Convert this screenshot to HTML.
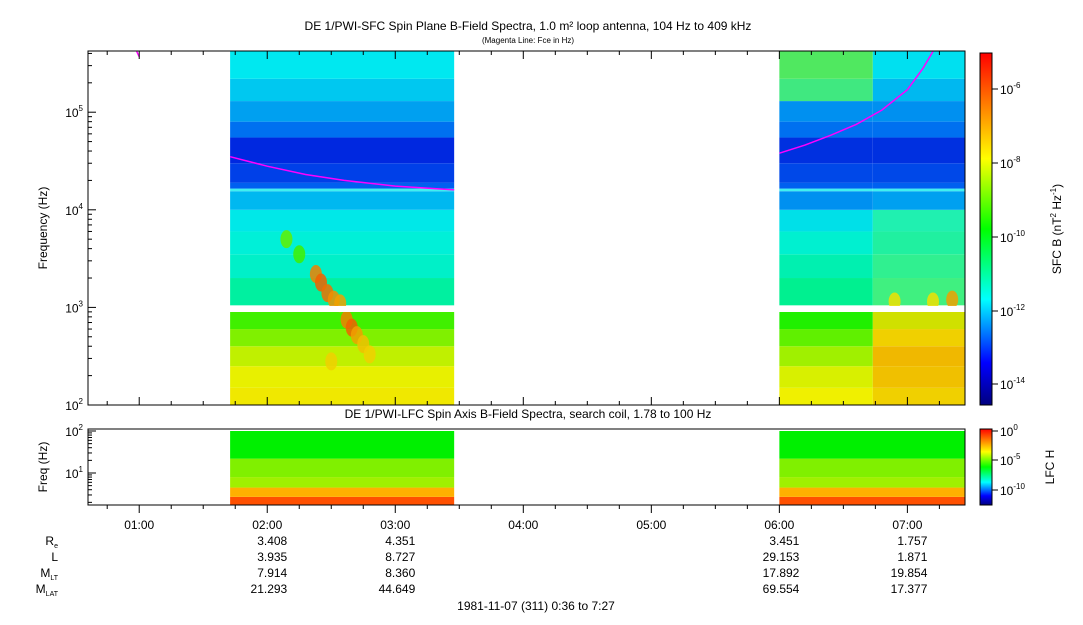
<!DOCTYPE html>
<html><head><meta charset="utf-8">
<style>
body{margin:0;background:#fff;width:1083px;height:620px;overflow:hidden;font-family:"Liberation Sans",sans-serif;}
svg text{font-family:"Liberation Sans",sans-serif;fill:#000;}
</style></head>
<body>
<svg id="chart" width="1083" height="620" xmlns="http://www.w3.org/2000/svg">
<defs>
<linearGradient id="cb1" x1="0" y1="1" x2="0" y2="0">
<stop offset="0" stop-color="#00007f"/><stop offset="0.12" stop-color="#0000ff"/><stop offset="0.3" stop-color="#00ffff"/><stop offset="0.5" stop-color="#00ff00"/><stop offset="0.7" stop-color="#ffff00"/><stop offset="0.85" stop-color="#ff8000"/><stop offset="1" stop-color="#ff0000"/>
</linearGradient>
<clipPath id="clipTop"><rect x="88" y="51" width="877" height="354"/></clipPath>
</defs>
<text x="528" y="30" font-size="12" text-anchor="middle">DE 1/PWI-SFC  Spin Plane B-Field Spectra, 1.0 m² loop antenna, 104 Hz to 409 kHz</text>
<text x="528" y="43" font-size="8" text-anchor="middle">(Magenta Line: Fce in Hz)</text>
<text x="528" y="418" font-size="12" text-anchor="middle">DE 1/PWI-LFC  Spin Axis B-Field Spectra, search coil, 1.78 to 100 Hz</text>
<g id="topg"></g><g id="lowg"></g><g id="axes"></g>
<rect x="980" y="53" width="12" height="352" fill="url(#cb1)" stroke="#000"/>
<rect x="980" y="429" width="12" height="76" fill="url(#cb1)" stroke="#000"/>
<text transform="translate(1061,229) rotate(-90)" font-size="12" text-anchor="middle">SFC B (nT<tspan font-size="8" dy="-5">2</tspan><tspan dy="5"> Hz</tspan><tspan font-size="8" dy="-5">-1</tspan><tspan dy="5">)</tspan></text>
<text transform="translate(1054,467) rotate(-90)" font-size="12" text-anchor="middle">LFC H</text>
<text transform="translate(47,228) rotate(-90)" font-size="12" text-anchor="middle">Frequency (Hz)</text>
<text transform="translate(47,467) rotate(-90)" font-size="12" text-anchor="middle">Freq (Hz)</text>
<text x="536" y="610" font-size="12" text-anchor="middle">1981-11-07 (311) 0:36 to 7:27</text>
</svg>
<script>
const tStart=0.6,tEnd=7.45;
const hourTicks=[1,2,3,4,5,6,7];
const hourLabels=["01:00","02:00","03:00","04:00","05:00","06:00","07:00"];
const segments=[[1.71,3.46],[6.0,7.45]];
const fceTimes1=[0.98,1.0];const fceVals1=[420000,370000];
const fceTimes2=[1.71,2.0,2.3,2.6,3.0,3.46];const fceVals2=[35000,28000,23000,20000,17500,16000];
const fceTimes3=[6.0,6.2,6.4,6.6,6.8,7.0,7.12,7.2];const fceVals3=[38000,46000,58000,75000,105000,170000,280000,420000];
const bandLo=[100,150,250,400,600,1050,2000,3500,6000,10000,15500,16500,19000,30000,55000,80000,130000,220000];
const bandHi=[150,250,400,600,900,2000,3500,6000,10000,15500,16500,19000,30000,55000,80000,130000,220000,420000];
const seg1Colors=["#f0e800","#e8f000","#c0f000","#80f000","#40f000","#00f0a0","#00f0c8","#00f0d8","#00e8e8","#00b8f0","#40f0f0","#0060f0","#0040e8","#0028e0","#0070f0","#00a0f0","#00c8f0","#00e8f0"];
const seg2aColors=["#f0f000","#d8f000","#a0f000","#60f000","#20f000","#00f090","#00f0b0","#00f0d0","#00e0e8","#0090f0","#40f0f0","#0060f0","#0048e8","#0030e0","#0070f0","#0090f0","#40e880","#50e860"];
const seg2bColors=["#f0d000","#f0c000","#f0b800","#f0d000","#d0e000","#40f080","#30f090","#20f0a0","#20f0b0","#00a0f0","#40f0f0","#0060f0","#0048e8","#0030e0","#0070f0","#0090f0","#00b8f0","#00e0f0"];
const seg2Split=6.73;
const blobT=[2.38,2.42,2.47,2.52,2.57,2.62,2.66,2.7,2.75,2.8,2.5,2.15,2.25,6.9,7.2,7.35];
const blobF=[2200,1800,1400,1200,1100,750,620,520,420,330,280,5000,3500,1150,1150,1200];
const blobC=["#f08000","#f06000","#f07000","#f09000","#f0a000","#f08000","#f06000","#f0a000","#f0c000","#f0d000","#f0d000","#60f000","#40f000","#f0e000","#f0e000","#f0a000"];
const lfcLo=[1.78,2.7,4.5,8,22];const lfcHi=[2.7,4.5,8,22,100];
const lfcColors=["#ff5000","#ffb000","#a0f000","#80f000","#00f000"];
const reVals=["","3.408","4.351","","","3.451","1.757"];
const lVals=["","3.935","8.727","","","29.153","1.871"];
const mltVals=["","7.914","8.360","","","17.892","19.854"];
const mlatVals=["","21.293","44.649","","","69.554","17.377"];
const NS="http://www.w3.org/2000/svg";
const X0=88,X1=965;
function xs(t){return X0+(t-tStart)/(tEnd-tStart)*(X1-X0);}
function ysTop(f){return 405-(Math.log10(f)-2)*97.6;}
function ysLow(f){return 431+(2-Math.log10(f))*42;}
function el(tag,attrs,parent){const e=document.createElementNS(NS,tag);for(const k in attrs)e.setAttribute(k,attrs[k]);parent.appendChild(e);return e;}
const gTop=document.getElementById('topg'),gLow=document.getElementById('lowg'),axes=document.getElementById('axes');
function drawBands(t0,t1,colors){
 for(let i=0;i<bandLo.length;i++){
  let y0=Math.max(51,ysTop(bandHi[i])),y1=ysTop(bandLo[i]);
  const r=el('rect',{x:xs(t0),y:y0,width:xs(t1)-xs(t0),height:y1-y0,fill:colors[i]},gTop);
  
  
 }
}
drawBands(segments[0][0],segments[0][1],seg1Colors);
drawBands(segments[1][0],seg2Split,seg2aColors);
drawBands(seg2Split,segments[1][1],seg2bColors);
for(let i=0;i<blobT.length;i++){
 const e=el('ellipse',{cx:xs(blobT[i]),cy:ysTop(blobF[i]),rx:6,ry:9,fill:blobC[i],opacity:0.85},gTop);
 
 
}
const gap=el('rect',{x:X0,y:306,width:X1-X0,height:6,fill:"#fff"},gTop);


function fceLine(ts,vs){
 let d="";for(let i=0;i<ts.length;i++){d+=(i?"L":"M")+xs(ts[i]).toFixed(1)+","+ysTop(vs[i]).toFixed(1);}
 const p=el('path',{d:d,fill:"none",stroke:"#ff00ff","stroke-width":1.5,"clip-path":"url(#clipTop)"},gTop);
 
 
}
fceLine(fceTimes1,fceVals1);fceLine(fceTimes2,fceVals2);fceLine(fceTimes3,fceVals3);
for(const s of segments){
 for(let i=0;i<lfcLo.length;i++){
  const r=el('rect',{x:xs(s[0]),y:ysLow(lfcHi[i]),width:xs(s[1])-xs(s[0]),height:ysLow(lfcLo[i])-ysLow(lfcHi[i]),fill:lfcColors[i]},gLow);
  
  
 }
}
const f1=el('rect',{x:X0,y:51,width:X1-X0,height:354,fill:"none",stroke:"#000"},axes);


const f2=el('rect',{x:X0,y:429,width:X1-X0,height:76,fill:"none",stroke:"#000"},axes);


for(let e=2;e<=5;e++){
 for(let m=1;m<10;m++){
  const f=m*Math.pow(10,e);const y=ysTop(f);if(y<51)continue;
  el('line',{x1:X0,x2:X0+(m==1?8:4),y1:y,y2:y,stroke:"#000"},axes);
 }
 const t=el('text',{x:X0-5,y:ysTop(Math.pow(10,e))+5,"font-size":12,"text-anchor":"end"},axes);
 
 
 t.innerHTML='10<tspan font-size="8" dy="-6">'+e+'</tspan>';
}
for(let e=0;e<=2;e++){for(let m=1;m<10;m++){const y=ysLow(m*Math.pow(10,e));if(y>505||y<429)continue;el('line',{x1:X0,x2:X0+(m==1?8:4),y1:y,y2:y,stroke:"#000"},axes);}}
[1,2].forEach(e=>{const t=el('text',{x:X0-5,y:ysLow(Math.pow(10,e))+5,"font-size":12,"text-anchor":"end"},axes);
 
 
 t.innerHTML='10<tspan font-size="8" dy="-6">'+e+'</tspan>';});
for(let h=0.75;h<=7.45;h+=0.25){const x=xs(h);const major=Math.abs(h-Math.round(h))<0.01;
 el('line',{x1:x,x2:x,y1:505,y2:505+(major?8:4),stroke:"#000"},axes);
 el('line',{x1:x,x2:x,y1:405,y2:405-(major?8:4),stroke:"#000"},axes);
 el('line',{x1:x,x2:x,y1:51,y2:51+(major?8:4),stroke:"#000"},axes);}
hourTicks.forEach((h,i)=>{const t=el('text',{x:xs(h),y:529,"font-size":12,"text-anchor":"middle"},axes);t.textContent=hourLabels[i];
 
 });
const rows=[["R<tspan font-size='7' dy='3'>e</tspan>",reVals,545],["L",lVals,561],["M<tspan font-size='7' dy='3'>LT</tspan>",mltVals,577],["M<tspan font-size='7' dy='3'>LAT</tspan>",mlatVals,593]];
rows.forEach(r=>{const lab=el('text',{x:58,y:r[2],"font-size":12,"text-anchor":"end"},axes);lab.innerHTML=r[0];
 
 
 hourTicks.forEach((h,i)=>{if(!r[1][i])return;const t=el('text',{x:xs(h)+20,y:r[2],"font-size":12,"text-anchor":"end"},axes);t.textContent=r[1][i];
  
  });});
const cbExp=[-6,-8,-10,-12,-14];const cbY=[89,163,237,311,384];
cbExp.forEach((e,i)=>{el('line',{x1:992,x2:998,y1:cbY[i],y2:cbY[i],stroke:"#000"},axes);
 const t=el('text',{x:1000,y:cbY[i]+5,"font-size":12},axes);t.innerHTML='10<tspan font-size="8" dy="-6">'+e+'</tspan>';
 
 });
const cb2Exp=[0,-5,-10];const cb2Y=[431,460,490];
cb2Exp.forEach((e,i)=>{el('line',{x1:992,x2:998,y1:cb2Y[i],y2:cb2Y[i],stroke:"#000"},axes);
 const t=el('text',{x:1000,y:cb2Y[i]+5,"font-size":12},axes);t.innerHTML='10<tspan font-size="8" dy="-6">'+e+'</tspan>';
 
 });
</script>
</body></html>
